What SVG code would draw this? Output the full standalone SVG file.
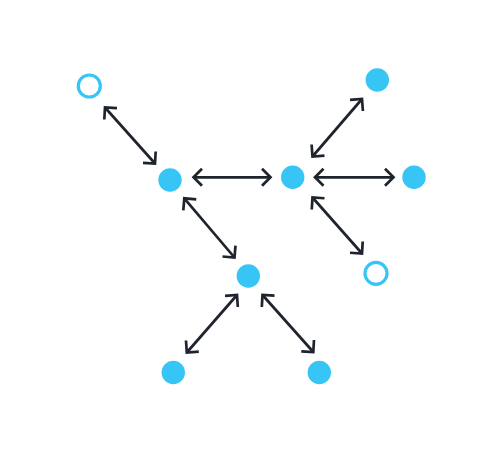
<svg xmlns="http://www.w3.org/2000/svg" width="500" height="451" viewBox="0 0 500 451">
<style>
.n{fill:#36C5F5}
.o{fill:none;stroke:#36C5F5;stroke-width:3.2}
.e{stroke:#1E232D;stroke-width:2.7;fill:none;marker-start:url(#ah);marker-end:url(#ah)}
</style>
<defs>
<marker id="ah" markerUnits="userSpaceOnUse" markerWidth="22" markerHeight="22" viewBox="-13 -11 15 22" refX="0" refY="0" orient="auto-start-reverse">
<path d="M-8.5,-8.5 L0,0 L-8.5,8.5" fill="none" stroke="#1E232D" stroke-width="2.7" stroke-linejoin="miter"/>
</marker>
</defs>
<rect width="500" height="451" fill="#FFFFFF"/>
<g id="edges">
<line class="e" x1="105" y1="107.5" x2="155" y2="163.5"/>
<line class="e" x1="193.5" y1="177.3" x2="270.5" y2="177.3"/>
<line class="e" x1="312.5" y1="156.5" x2="362" y2="99"/>
<line class="e" x1="315" y1="177.3" x2="393.5" y2="177.3"/>
<line class="e" x1="312.5" y1="197.5" x2="362" y2="253.5"/>
<line class="e" x1="184.3" y1="198.3" x2="234.5" y2="257.5"/>
<line class="e" x1="237" y1="295" x2="186.8" y2="352.5"/>
<line class="e" x1="262.5" y1="295" x2="313.3" y2="352"/>
</g>
<g id="n1"><circle class="o" cx="89.3" cy="86" r="11"/></g>
<g id="n2"><circle class="n" cx="170" cy="180" r="11.7"/></g>
<g id="n3"><circle class="n" cx="292.7" cy="177.3" r="11.7"/></g>
<g id="n4"><circle class="n" cx="377.3" cy="80" r="11.7"/></g>
<g id="n5"><circle class="n" cx="414" cy="177.3" r="11.7"/></g>
<g id="n6"><circle class="o" cx="376" cy="273.3" r="11"/></g>
<g id="n7"><circle class="n" cx="248.3" cy="276" r="11.7"/></g>
<g id="n8"><circle class="n" cx="173.3" cy="372.5" r="11.7"/></g>
<g id="n9"><circle class="n" cx="319.3" cy="372.5" r="11.7"/></g>
</svg>
